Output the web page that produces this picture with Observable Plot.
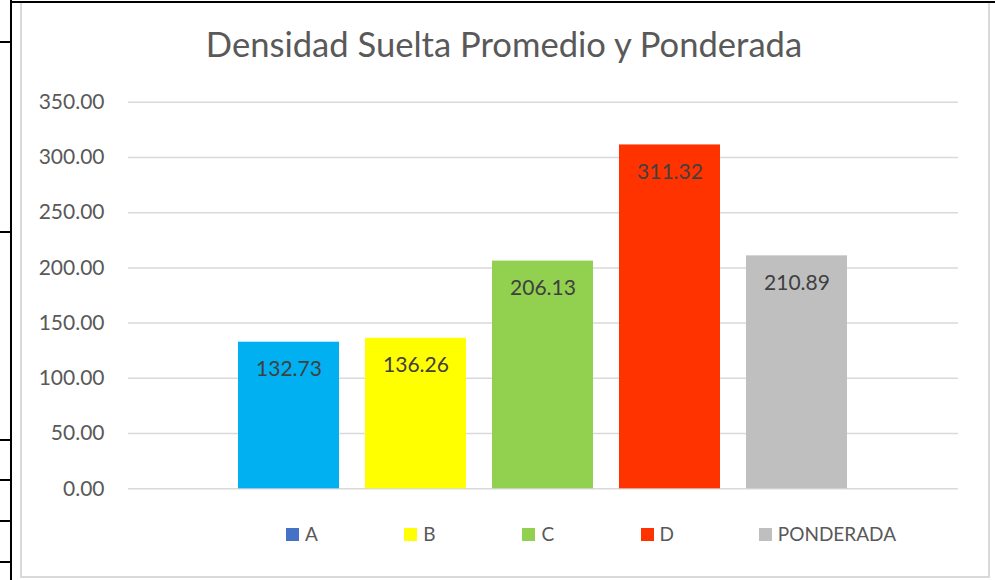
<!DOCTYPE html>
<html><head><meta charset="utf-8">
<script src="https://cdn.jsdelivr.net/npm/d3@7"></script>
<script src="https://cdn.jsdelivr.net/npm/@observablehq/plot@0.6"></script>
<style>
html,body{margin:0;padding:0;background:#fff;}
#page{position:relative;width:995px;height:580px;overflow:hidden;font-family:Lato,sans-serif;}
.blk{position:absolute;background:#000;}
#frame{position:absolute;left:20px;top:3px;width:966px;height:573px;border:2px solid #D9D9D9;border-top:none;}
#title{position:absolute;left:20px;width:968px;top:23.5px;line-height:40px;text-align:center;font-size:34.6px;color:#595959;white-space:nowrap;}
#chart{position:absolute;left:0;top:80px;}
.sw{position:absolute;width:13px;height:13px;top:528px;}
.lt{position:absolute;top:524px;line-height:20px;font-size:19px;color:#595959;white-space:nowrap;}
</style></head>
<body><div id="page">
<div id="frame"></div>
<div class="blk" style="left:10px;top:0;width:2px;height:580px"></div>
<div class="blk" style="left:10px;top:1px;width:985px;height:2px"></div>
<div class="blk" style="left:0;top:41px;width:11px;height:2px"></div>
<div class="blk" style="left:0;top:231px;width:11px;height:2px"></div>
<div class="blk" style="left:0;top:439px;width:11px;height:2px"></div>
<div class="blk" style="left:0;top:479px;width:11px;height:2px"></div>
<div class="blk" style="left:0;top:520px;width:11px;height:2px"></div>
<div class="blk" style="left:0;top:561px;width:11px;height:2px"></div>
<div id="title"></div>
<div id="chart"></div>
<div id="legend"></div>
</div>
<script>
const titleText = "Densidad Suelta Promedio y Ponderada";
const categories = ["A", "B", "C", "D", "PONDERADA"];
const values = [132.73, 136.26, 206.13, 311.32, 210.89];
const barColors = ["#00B0F0", "#FFFF00", "#92D050", "#FF3300", "#BFBFBF"];
const legendColors = ["#4472C4", "#FFFF00", "#92D050", "#FF3300", "#BFBFBF"];
const yTicks = [0, 50, 100, 150, 200, 250, 300, 350];

document.getElementById("title").textContent = titleText;

const data = categories.map((c, i) => ({cat: c, value: values[i]}));

const plot = Plot.plot({
  width: 995,
  height: 440,
  marginTop: 21.7,
  marginBottom: 31.7,
  marginLeft: 128,
  marginRight: 37,
  style: {fontFamily: "Lato, sans-serif", fontSize: "21px", color: "#595959", background: "transparent"},
  x: {domain: categories, range: [223.5, 861.2], paddingInner: 0.206, paddingOuter: 0.103, axis: null},
  y: {domain: [0, 350], ticks: yTicks, tickFormat: d3.format(".2f"), tickSize: 0, tickPadding: 24, label: null},
  color: {domain: categories, range: barColors},
  marks: [
    Plot.ruleY(yTicks, {stroke: "#D9D9D9", strokeWidth: 1.5}),
    Plot.barY(data, {x: "cat", y: "value", fill: "cat"}),
    Plot.text(data, {x: "cat", y: "value", text: d => d3.format(".2f")(d.value), dy: 27, fill: "#404040", fontSize: 21})
  ]
});
document.getElementById("chart").appendChild(plot);

const legend = document.getElementById("legend");
categories.forEach((c, i) => {
  const x = 286 + i * 118.2;
  const sw = document.createElement("div");
  sw.className = "sw";
  sw.style.left = x + "px";
  sw.style.background = legendColors[i];
  const t = document.createElement("div");
  t.className = "lt";
  t.style.left = (x + 19) + "px";
  t.textContent = c;
  legend.appendChild(sw);
  legend.appendChild(t);
});
</script>
</body></html>
